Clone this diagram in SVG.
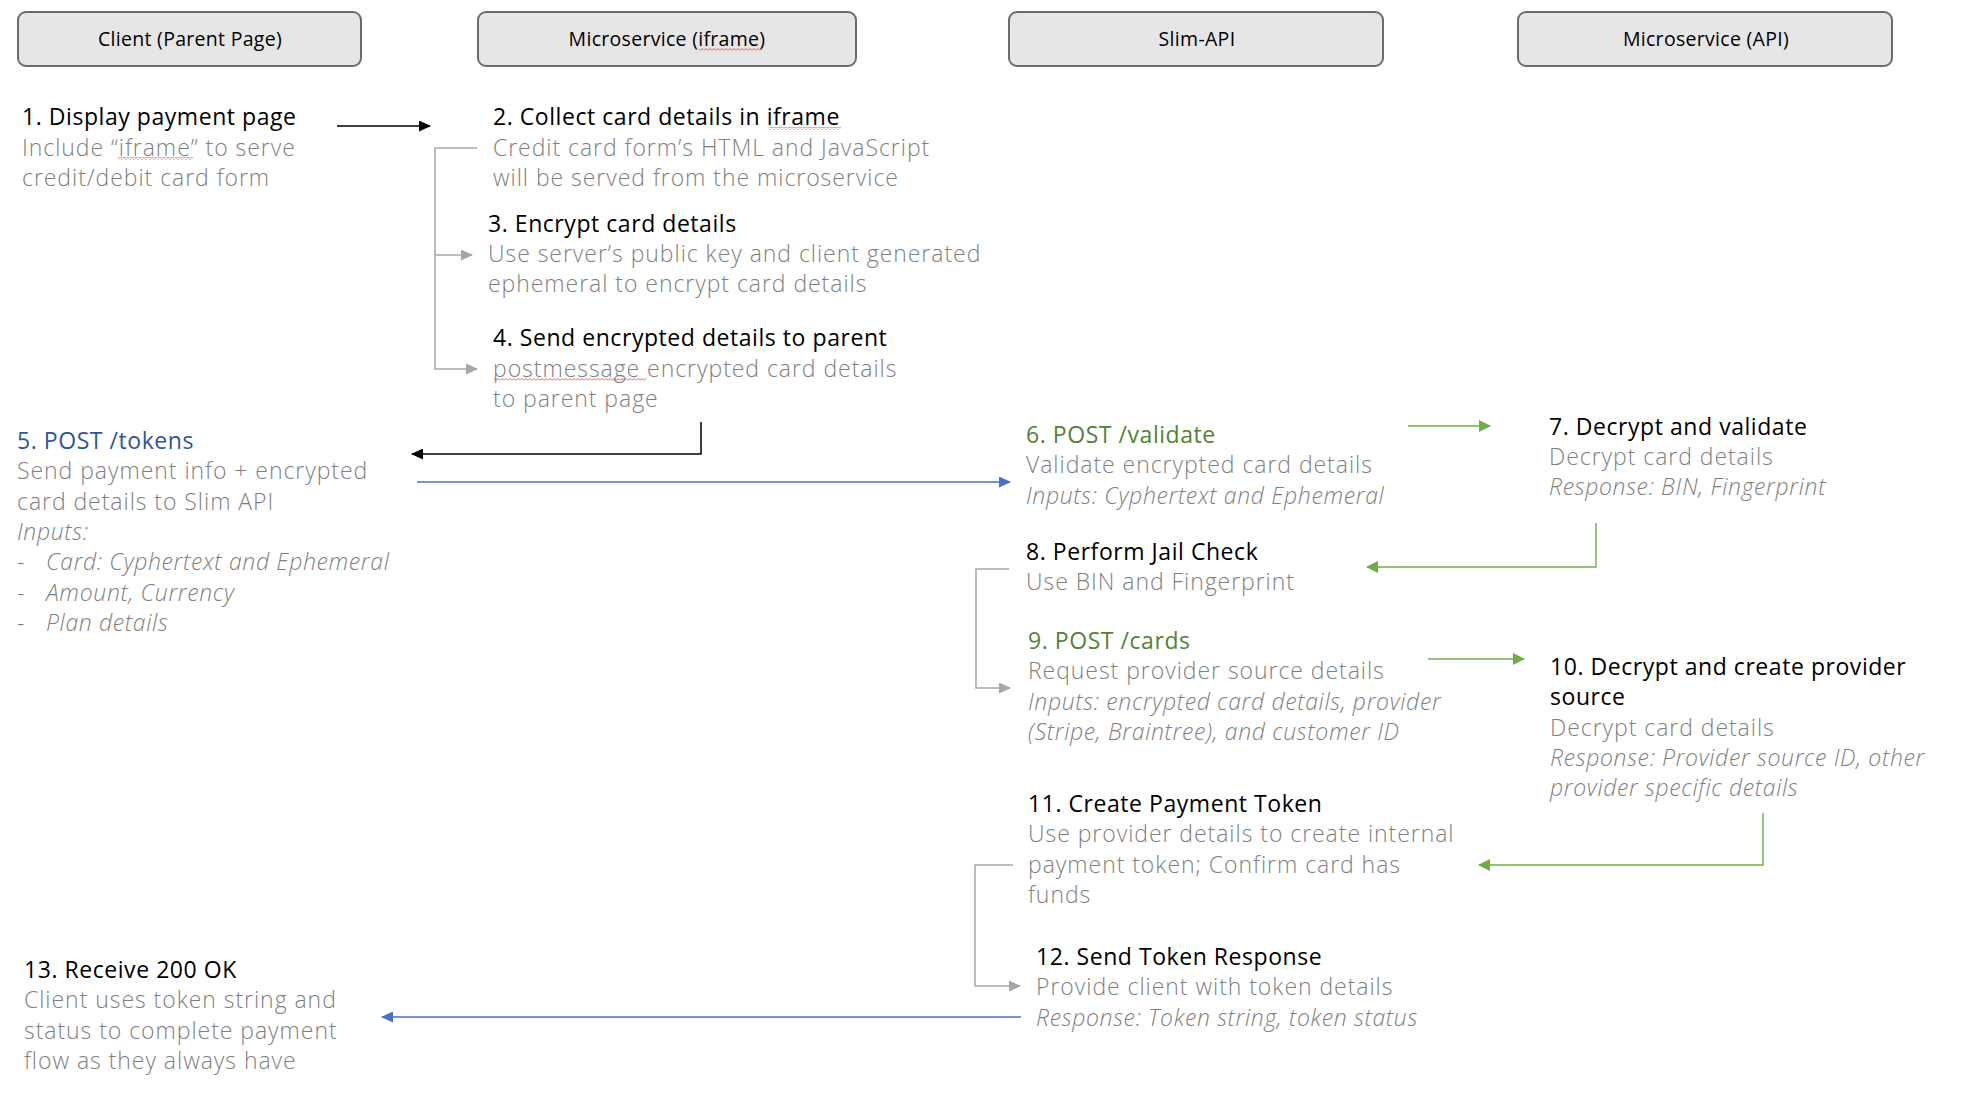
<svg xmlns="http://www.w3.org/2000/svg" width="1980" height="1104" viewBox="0 0 1980 1104">
<style>
.t{font-family:'Open Sans','Noto Sans',sans-serif;font-size:23px;letter-spacing:0.55px}
.h{fill:#000}
.b{fill:#7f7f7f;font-weight:350;letter-spacing:0.95px}
.b.i{font-style:italic;letter-spacing:0.65px}
.blue{fill:#2f5597}
.green{fill:#548235}
.box{fill:#e7e6e6;stroke:#6b6b6b;stroke-width:2}
.lbl{font-family:'Open Sans','Noto Sans',sans-serif;font-size:19.5px;letter-spacing:0.3px;fill:#000;text-anchor:middle}
.cb{fill:none;stroke:#000;stroke-width:1.5}
.cg{fill:none;stroke:#a6a6a6;stroke-width:1.5}
.cblue{fill:none;stroke:#4472c4;stroke-width:1.5}
.cgreen{fill:none;stroke:#70ad47;stroke-width:1.4}
</style>
<defs>
<marker id="ab" markerWidth="12" markerHeight="11" refX="11" refY="5.5" orient="auto" markerUnits="userSpaceOnUse"><path d="M0,0 L12,5.5 L0,11 Z" fill="#000"/></marker>
<marker id="ag" markerWidth="12" markerHeight="11" refX="11" refY="5.5" orient="auto" markerUnits="userSpaceOnUse"><path d="M0,0 L12,5.5 L0,11 Z" fill="#a6a6a6"/></marker>
<marker id="abl" markerWidth="12" markerHeight="11" refX="11" refY="5.5" orient="auto" markerUnits="userSpaceOnUse"><path d="M0,0 L12,5.5 L0,11 Z" fill="#4472c4"/></marker>
<marker id="agr" markerWidth="12" markerHeight="12" refX="11" refY="6" orient="auto" markerUnits="userSpaceOnUse"><path d="M0,0 L12,6 L0,12 Z" fill="#70ad47"/></marker>
<pattern id="sq" width="4" height="3" patternUnits="userSpaceOnUse"><path d="M0,2.5 L2,0.5 L4,2.5" fill="none" stroke="#e03030" stroke-width="0.8"/></pattern>
</defs>

<g id="header-client"><rect class="box" x="18" y="12" width="343" height="54" rx="8"/><text class="lbl" x="190" y="46">Client (Parent Page)</text></g>
<g id="header-iframe"><rect class="box" x="478" y="12" width="378" height="54" rx="8"/><text class="lbl" x="667" y="46">Microservice (iframe)</text><rect x="699" y="48" width="63" height="3" fill="url(#sq)"/></g>
<g id="header-slim"><rect class="box" x="1009" y="12" width="374" height="54" rx="8"/><text class="lbl" x="1197" y="46">Slim-API</text></g>
<g id="header-msapi"><rect class="box" x="1518" y="12" width="374" height="54" rx="8"/><text class="lbl" x="1706" y="46">Microservice (API)</text></g>

<g id="connectors">
<path class="cb" d="M337,126 H430" marker-end="url(#ab)"/>
<path class="cg" d="M477,148 H435 V369 H477" marker-end="url(#ag)"/>
<path class="cg" d="M435,255 H472" marker-end="url(#ag)"/>
<path class="cb" d="M701,422 V454 H412" marker-end="url(#ab)"/>
<path class="cblue" d="M417,482 H1010" marker-end="url(#abl)"/>
<path class="cgreen" d="M1408,426 H1490" marker-end="url(#agr)"/>
<path class="cgreen" d="M1596,523 V567 H1367" marker-end="url(#agr)"/>
<path class="cg" d="M1009,569 H976 V688 H1010" marker-end="url(#ag)"/>
<path class="cgreen" d="M1428,659 H1524" marker-end="url(#agr)"/>
<path class="cgreen" d="M1763,813 V865 H1479" marker-end="url(#agr)"/>
<path class="cg" d="M1013,865 H975 V986 H1020" marker-end="url(#ag)"/>
<path class="cblue" d="M1021,1017 H382" marker-end="url(#abl)"/>
</g>

<g id="step1"><text class="t"><tspan class="h" x="22" y="125">1. Display payment page</tspan><tspan class="b" x="22" y="155.5">Include “iframe” to serve</tspan><tspan class="b" x="22" y="186">credit/debit card form</tspan></text><rect x="118" y="157" width="75" height="3" fill="url(#sq)"/></g>
<g id="step2"><text class="t"><tspan class="h" x="493" y="125">2. Collect card details in iframe</tspan><tspan class="b" x="493" y="155.5">Credit card form’s HTML and JavaScript</tspan><tspan class="b" x="493" y="186">will be served from the microservice</tspan></text><rect x="769" y="127" width="72" height="3" fill="url(#sq)"/></g>
<g id="step3"><text class="t"><tspan class="h" x="488" y="232">3. Encrypt card details</tspan><tspan class="b" x="488" y="262">Use server’s public key and client generated</tspan><tspan class="b" x="488" y="292">ephemeral to encrypt card details</tspan></text></g>
<g id="step4"><text class="t"><tspan class="h" x="493" y="346">4. Send encrypted details to parent</tspan><tspan class="b" x="493" y="377">postmessage encrypted card details</tspan><tspan class="b" x="493" y="407">to parent page</tspan></text><rect x="494" y="378" width="152" height="3" fill="url(#sq)"/></g>
<g id="step5"><text class="t"><tspan class="blue" x="17" y="449">5. POST /tokens</tspan><tspan class="b" x="17" y="479">Send payment info + encrypted</tspan><tspan class="b" x="17" y="510">card details to Slim API</tspan><tspan class="b i" x="17" y="540">Inputs:</tspan><tspan class="b" x="17" y="570">-</tspan><tspan class="b i" x="46" y="570">Card: Cyphertext and Ephemeral</tspan><tspan class="b" x="17" y="601">-</tspan><tspan class="b i" x="46" y="601">Amount, Currency</tspan><tspan class="b" x="17" y="631">-</tspan><tspan class="b i" x="46" y="631">Plan details</tspan></text></g>
<g id="step6"><text class="t"><tspan class="green" x="1026" y="443">6. POST /validate</tspan><tspan class="b" x="1026" y="473">Validate encrypted card details</tspan><tspan class="b i" x="1026" y="504">Inputs: Cyphertext and Ephemeral</tspan></text></g>
<g id="step7"><text class="t"><tspan class="h" x="1549" y="435">7. Decrypt and validate</tspan><tspan class="b" x="1549" y="465">Decrypt card details</tspan><tspan class="b i" x="1549" y="495">Response: BIN, Fingerprint</tspan></text></g>
<g id="step8"><text class="t"><tspan class="h" x="1026" y="560">8. Perform Jail Check</tspan><tspan class="b" x="1026" y="590">Use BIN and Fingerprint</tspan></text></g>
<g id="step9"><text class="t"><tspan class="green" x="1028" y="649">9. POST /cards</tspan><tspan class="b" x="1028" y="679">Request provider source details</tspan><tspan class="b i" x="1028" y="710">Inputs: encrypted card details, provider</tspan><tspan class="b i" x="1028" y="740">(Stripe, Braintree), and customer ID</tspan></text></g>
<g id="step10"><text class="t"><tspan class="h" x="1550" y="675">10. Decrypt and create provider</tspan><tspan class="h" x="1550" y="705">source</tspan><tspan class="b" x="1550" y="736">Decrypt card details</tspan><tspan class="b i" x="1550" y="766">Response: Provider source ID, other</tspan><tspan class="b i" x="1550" y="796">provider specific details</tspan></text></g>
<g id="step11"><text class="t"><tspan class="h" x="1028" y="812">11. Create Payment Token</tspan><tspan class="b" x="1028" y="842">Use provider details to create internal</tspan><tspan class="b" x="1028" y="873">payment token; Confirm card has</tspan><tspan class="b" x="1028" y="903">funds</tspan></text></g>
<g id="step12"><text class="t"><tspan class="h" x="1036" y="965">12. Send Token Response</tspan><tspan class="b" x="1036" y="995">Provide client with token details</tspan><tspan class="b i" x="1036" y="1026">Response: Token string, token status</tspan></text></g>
<g id="step13"><text class="t"><tspan class="h" x="24" y="978">13. Receive 200 OK</tspan><tspan class="b" x="24" y="1008">Client uses token string and</tspan><tspan class="b" x="24" y="1039">status to complete payment</tspan><tspan class="b" x="24" y="1069">flow as they always have</tspan></text></g>
</svg>
